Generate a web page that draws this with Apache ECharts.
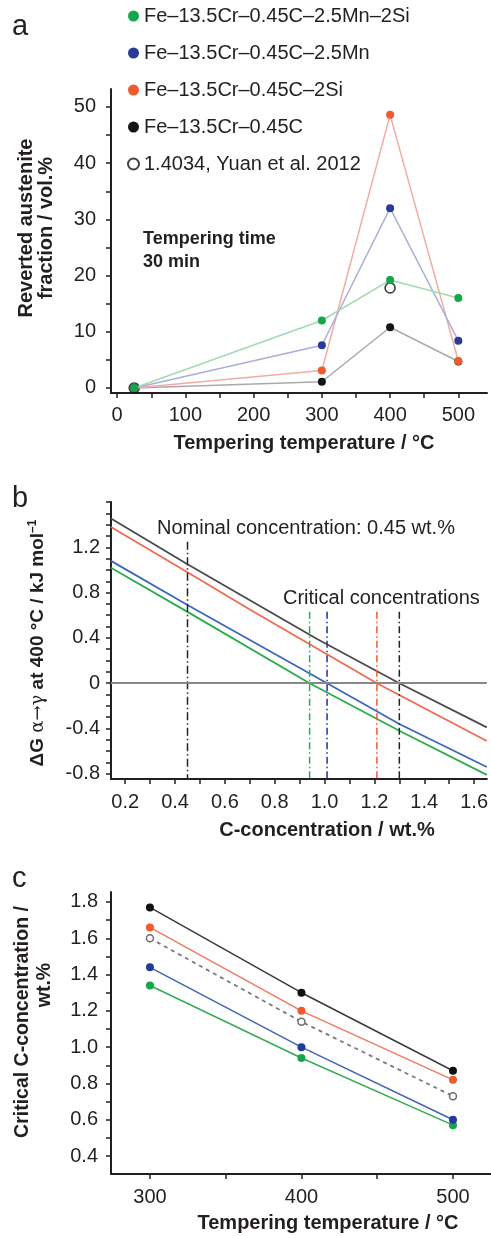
<!DOCTYPE html>
<html>
<head>
<meta charset="utf-8">
<script src="https://cdn.jsdelivr.net/npm/echarts@6/dist/echarts.min.js"></script>
<style>
html,body{margin:0;padding:0;background:#fff;}
#chart{width:491px;height:1236px;}
</style>
</head>
<body>
<div id="chart"></div>
<script>
// ---------------- DATA ----------------
// Panel a: reverted austenite fraction vs tempering temperature
const tempA = [25, 300, 400, 500];
const aGreen = [0, 12.0, 19.2, 16.0];   // Fe-13.5Cr-0.45C-2.5Mn-2Si
const aBlue  = [0, 7.6, 32.0, 8.4];     // Fe-13.5Cr-0.45C-2.5Mn
const aRed   = [0, 3.1, 48.6, 4.8];     // Fe-13.5Cr-0.45C-2Si
const aBlack = [0, 1.1, 10.8, 4.7];     // Fe-13.5Cr-0.45C
const yuanTemp = [25, 400];
const yuanVal  = [0, 17.8];             // 1.4034, Yuan et al. 2012
const aTickX = [0, 100, 200, 300, 400, 500];
const aTickY = [0, 10, 20, 30, 40, 50];

// Panel b: ΔG vs carbon concentration (400 °C)
const bBlackC = [0.143, 0.45, 0.97, 1.30, 1.651];
const bBlackG = [1.455, 1.05, 0.39, 0.0, -0.39];
const bRedC   = [0.143, 0.45, 0.70, 1.21, 1.651];
const bRedG   = [1.38, 0.98, 0.65, 0.0, -0.51];
const bBlueC  = [0.143, 0.45, 1.01, 1.30, 1.651];
const bBlueG  = [1.08, 0.69, 0.0, -0.36, -0.74];
const bGreenC = [0.143, 0.45, 0.94, 1.30, 1.651];
const bGreenG = [1.02, 0.63, 0.0, -0.42, -0.81];
const nominalC = 0.45;
const nominalTop = 1.25;
const criticalC = [0.94, 1.01, 1.21, 1.30];      // green, blue, red, black
const criticalTop = 0.63;
const bTickX = [0.2, 0.4, 0.6, 0.8, 1.0, 1.2, 1.4, 1.6];
const bTickY = [-0.8, -0.4, 0, 0.4, 0.8, 1.2];

// Panel c: critical C-concentration vs tempering temperature
const tempC = [300, 400, 500];
const cBlack = [1.77, 1.30, 0.87];
const cRed   = [1.66, 1.20, 0.82];
const cYuan  = [1.60, 1.14, 0.73];
const cBlue  = [1.44, 1.00, 0.60];
const cGreen = [1.34, 0.94, 0.57];
const cTickX = [300, 400, 500];
const cTickY = [0.4, 0.6, 0.8, 1.0, 1.2, 1.4, 1.6, 1.8];

const names = ['Fe–13.5Cr–0.45C–2.5Mn–2Si', 'Fe–13.5Cr–0.45C–2.5Mn', 'Fe–13.5Cr–0.45C–2Si', 'Fe–13.5Cr–0.45C', '1.4034, Yuan et al. 2012'];

// ---------------- STYLE ----------------
const FONT = "'Liberation Sans', Arial, Helvetica, sans-serif";
const INK = '#231f20';
const zip = (xs, ys) => xs.map((x, i) => [x, ys[i]]);
const range = (a, b, s) => { const r = []; for (let v = a; v <= b + 1e-9; v += s) r.push(Math.round(v * 1000) / 1000); return r; };

const bYMin = -0.846, bYMax = 1.6;

function axisBase(extra) {
  return Object.assign({
    type: 'value',
    axisLine: { show: true, onZero: false, lineStyle: { color: INK, width: 2 } },
    axisTick: { show: true, inside: false, length: 5, lineStyle: { color: INK, width: 1.5 } },
    axisLabel: { color: INK, fontSize: 20, fontFamily: FONT },
    splitLine: { show: false }
  }, extra);
}

const chart = echarts.init(document.getElementById('chart'), null, { renderer: 'canvas' });

const option = {
  backgroundColor: '#fff',
  animation: false,
  textStyle: { fontFamily: FONT },
  legend: {
    data: names,
    orient: 'vertical',
    left: 127, top: 6, padding: 0,
    itemWidth: 11, itemHeight: 11, itemGap: 17,
    icon: 'circle',
    selectedMode: false,
    textStyle: { color: INK, fontSize: 20, fontFamily: FONT, lineHeight: 20 }
  },
  grid: [
    { left: 111, top: 89, width: 376, height: 304 },
    { left: 111, top: 502, width: 380, height: 277 },
    { left: 111, top: 892, width: 380, height: 282 }
  ],
  xAxis: [
    axisBase({ gridIndex: 0, min: -9, max: 542,
      axisTick: { show: true, length: 5, customValues: range(0, 500, 50), lineStyle: { color: INK, width: 1.5 } },
      axisLabel: { color: INK, fontSize: 20, fontFamily: FONT, margin: 12, customValues: aTickX } }),
    axisBase({ gridIndex: 1, min: 0.143, max: 1.651,
      axisTick: { show: true, length: 5, customValues: range(0.2, 1.6, 0.1), lineStyle: { color: INK, width: 1.5 } },
      axisLabel: { color: INK, fontSize: 20, fontFamily: FONT, margin: 13, customValues: bTickX, formatter: v => v.toFixed(1) } }),
    axisBase({ gridIndex: 2, min: 274.3, max: 525.1,
      axisTick: { show: true, length: 5, customValues: range(300, 500, 50), lineStyle: { color: INK, width: 1.5 } },
      axisLabel: { color: INK, fontSize: 20, fontFamily: FONT, margin: 13, customValues: cTickX } })
  ],
  yAxis: [
    axisBase({ gridIndex: 0, min: -0.9, max: 53.2,
      axisTick: { show: true, length: 5, customValues: range(0, 50, 5), lineStyle: { color: INK, width: 1.5 } },
      axisLabel: { color: INK, fontSize: 20, fontFamily: FONT, margin: 15, customValues: aTickY } }),
    axisBase({ gridIndex: 1, min: bYMin, max: bYMax,
      axisTick: { show: true, length: 5, customValues: range(-0.8, 1.6, 0.1), lineStyle: { color: INK, width: 1.5 } },
      axisLabel: { color: INK, fontSize: 20, fontFamily: FONT, margin: 11, customValues: bTickY, formatter: v => (Math.abs(v) < 1e-9 ? '0' : v.toFixed(1)) } }),
    axisBase({ gridIndex: 2, min: 0.301, max: 1.855,
      axisTick: { show: true, length: 5, customValues: range(0.4, 1.8, 0.1), lineStyle: { color: INK, width: 1.5 } },
      axisLabel: { color: INK, fontSize: 20, fontFamily: FONT, margin: 13, customValues: cTickY, formatter: v => v.toFixed(1) } })
  ],
  series: [
    // ---- panel a ----
    { name: names[3], type: 'line', xAxisIndex: 0, yAxisIndex: 0, data: zip(tempA, aBlack),
      symbol: 'circle', symbolSize: 8, lineStyle: { color: '#a9a9a9', width: 1.5 }, itemStyle: { color: '#141414' } },
    { name: names[2], type: 'line', xAxisIndex: 0, yAxisIndex: 0, data: zip(tempA, aRed),
      symbol: 'circle', symbolSize: 8, lineStyle: { color: '#f4aca2', width: 1.5 }, itemStyle: { color: '#f15a2b' } },
    { name: names[1], type: 'line', xAxisIndex: 0, yAxisIndex: 0, data: zip(tempA, aBlue),
      symbol: 'circle', symbolSize: 8, lineStyle: { color: '#aaaedb', width: 1.5 }, itemStyle: { color: '#2b3a97' } },
    { name: names[0], type: 'line', xAxisIndex: 0, yAxisIndex: 0, data: zip(tempA, aGreen),
      symbol: 'circle', symbolSize: 8, lineStyle: { color: '#a5d8b0', width: 1.5 }, itemStyle: { color: '#12a84a' } },
    { name: names[4], type: 'scatter', xAxisIndex: 0, yAxisIndex: 0, data: zip(yuanTemp, yuanVal),
      symbol: 'circle', symbolSize: 10, itemStyle: { color: 'rgba(255,255,255,0)', borderColor: '#111', borderWidth: 1.6 } },

    // ---- panel b ----
    { name: 'b-black', type: 'line', xAxisIndex: 1, yAxisIndex: 1, data: zip(bBlackC, bBlackG), symbol: 'none',
      lineStyle: { color: '#4a4a4a', width: 1.8 },
      markLine: { silent: true, symbol: 'none', label: { show: false }, lineStyle: { color: '#888', width: 2, type: 'solid' }, data: [{ yAxis: 0 }] } },
    { name: 'b-red', type: 'line', xAxisIndex: 1, yAxisIndex: 1, data: zip(bRedC, bRedG), symbol: 'none',
      lineStyle: { color: '#f26a4e', width: 1.8 } },
    { name: 'b-blue', type: 'line', xAxisIndex: 1, yAxisIndex: 1, data: zip(bBlueC, bBlueG), symbol: 'none',
      lineStyle: { color: '#3d66c0', width: 1.8 } },
    { name: 'b-green', type: 'line', xAxisIndex: 1, yAxisIndex: 1, data: zip(bGreenC, bGreenG), symbol: 'none',
      lineStyle: { color: '#2aac4c', width: 1.8 } },
    { name: 'b-nominal', type: 'line', xAxisIndex: 1, yAxisIndex: 1, data: [[nominalC, nominalTop], [nominalC, bYMin]], symbol: 'none',
      lineStyle: { color: '#222', width: 1.5, type: [8, 3, 1.5, 3] } },
    ...criticalC.map((c, i) => ({
      name: 'b-critical-' + i, type: 'line', xAxisIndex: 1, yAxisIndex: 1, data: [[c, criticalTop], [c, bYMin]], symbol: 'none',
      lineStyle: { color: ['#1fb14e', '#1f2fa8', '#f15a2b', '#222'][i], width: 1.5, type: [7, 3, 1.5, 3] }
    })),

    // ---- panel c ----
    { name: 'c-green', type: 'line', xAxisIndex: 2, yAxisIndex: 2, data: zip(tempC, cGreen),
      symbol: 'circle', symbolSize: 8, lineStyle: { color: '#35ab55', width: 1.5 }, itemStyle: { color: '#16a64a' } },
    { name: 'c-blue', type: 'line', xAxisIndex: 2, yAxisIndex: 2, data: zip(tempC, cBlue),
      symbol: 'circle', symbolSize: 8, lineStyle: { color: '#4264b4', width: 1.5 }, itemStyle: { color: '#233b99' } },
    { name: 'c-yuan', type: 'line', xAxisIndex: 2, yAxisIndex: 2, data: zip(tempC, cYuan),
      symbol: 'circle', symbolSize: 7, lineStyle: { color: '#7a7a7a', width: 1.8, type: [4, 4] },
      itemStyle: { color: '#fff', borderColor: '#6e6e6e', borderWidth: 1.5 } },
    { name: 'c-red', type: 'line', xAxisIndex: 2, yAxisIndex: 2, data: zip(tempC, cRed),
      symbol: 'circle', symbolSize: 8, lineStyle: { color: '#f07a62', width: 1.5 }, itemStyle: { color: '#f15a2b' } },
    { name: 'c-black', type: 'line', xAxisIndex: 2, yAxisIndex: 2, data: zip(tempC, cBlack),
      symbol: 'circle', symbolSize: 8, lineStyle: { color: '#3a3a3a', width: 1.5 }, itemStyle: { color: '#111' } }
  ],
  graphic: [
    { type: 'text', left: 12, top: 12, style: { text: 'a', fontSize: 29, fontFamily: FONT, fill: INK } },
    { type: 'text', left: 12, top: 484, style: { text: 'b', fontSize: 29, fontFamily: FONT, fill: INK } },
    { type: 'text', left: 12, top: 864, style: { text: 'c', fontSize: 29, fontFamily: FONT, fill: INK } },
    { type: 'text', left: 143, top: 228, style: { text: 'Tempering time\n30 min', fontSize: 18, fontWeight: 'bold', lineHeight: 23, fontFamily: FONT, fill: INK } },
    { type: 'text', x: 157, y: 528, style: { text: 'Nominal concentration: 0.45 wt.%', fontSize: 20, fontFamily: FONT, fill: INK, textVerticalAlign: 'middle' } },
    { type: 'text', x: 283, y: 598, style: { text: 'Critical concentrations', fontSize: 20, fontFamily: FONT, fill: INK, textVerticalAlign: 'middle' } },
    // x titles
    { type: 'text', x: 304, y: 443, style: { text: 'Tempering temperature / °C', fontSize: 20, fontWeight: 'bold', fontFamily: FONT, fill: INK, textAlign: 'center', textVerticalAlign: 'middle' } },
    { type: 'text', x: 327, y: 830, style: { text: 'C-concentration / wt.%', fontSize: 20, fontWeight: 'bold', fontFamily: FONT, fill: INK, textAlign: 'center', textVerticalAlign: 'middle' } },
    { type: 'text', x: 328, y: 1223, style: { text: 'Tempering temperature / °C', fontSize: 20, fontWeight: 'bold', fontFamily: FONT, fill: INK, textAlign: 'center', textVerticalAlign: 'middle' } },
    // y titles
    { type: 'text', x: 36, y: 228, rotation: Math.PI / 2, style: { text: 'Reverted austenite\nfraction / vol.%', fontSize: 20, fontWeight: 'bold', lineHeight: 20, fontFamily: FONT, fill: INK, textAlign: 'center', textVerticalAlign: 'middle' } },
    { type: 'text', x: 38, y: 643, rotation: Math.PI / 2, style: {
        text: '{b|ΔG }{g|α→γ}{b| at 400 °C / kJ mol}{s|–1}',
        textAlign: 'center', textVerticalAlign: 'middle', fill: INK,
        rich: {
          b: { fontSize: 19, fontWeight: 'bold', fontFamily: FONT, fill: INK, lineHeight: 22 },
          g: { fontSize: 18, fontWeight: 'normal', fontFamily: "'DejaVu Serif', serif", fill: INK, lineHeight: 22 },
          s: { fontSize: 12, fontWeight: 'bold', fontFamily: FONT, fill: INK, verticalAlign: 'top', lineHeight: 22 }
        } } },
    { type: 'text', x: 23, y: 1022, rotation: Math.PI / 2, style: { text: 'Critical C-concentration /', fontSize: 19.5, fontWeight: 'bold', fontFamily: FONT, fill: INK, textAlign: 'center', textVerticalAlign: 'middle' } },
    { type: 'text', x: 45, y: 985, rotation: Math.PI / 2, style: { text: 'wt.%', fontSize: 19.5, fontWeight: 'bold', fontFamily: FONT, fill: INK, textAlign: 'center', textVerticalAlign: 'middle' } }
  ]
};
chart.setOption(option);
</script>
</body>
</html>
